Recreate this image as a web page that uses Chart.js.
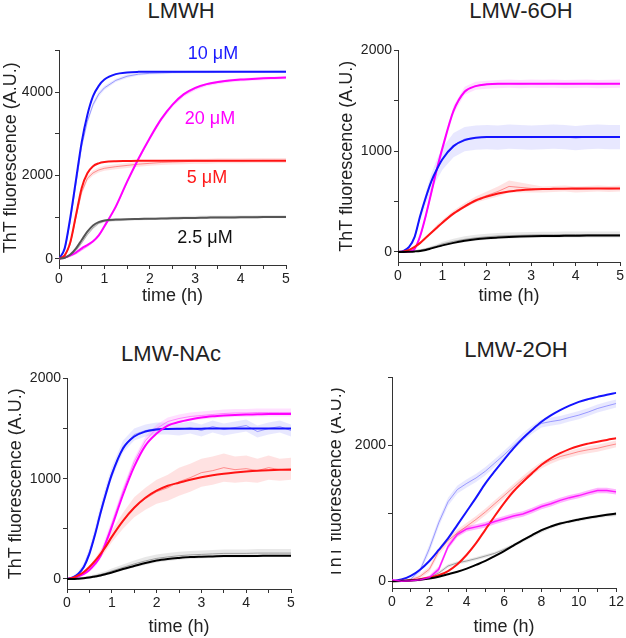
<!DOCTYPE html>
<html>
<head>
<meta charset="utf-8">
<script src="https://cdn.jsdelivr.net/npm/chart.js@4"></script>
<style>
  body { margin: 0; background: #fff; width: 626px; height: 638px; position: relative; overflow: hidden;
         font-family: "Liberation Sans", Arial, sans-serif; }
  .box { position: absolute; }
  .ttl { position: absolute; font-size: 22px; color: #222; transform: translate(-50%, -50%); white-space: nowrap; }
  .lbl { position: absolute; font-size: 18px; transform: translate(-50%, -50%); white-space: nowrap; }
</style>
</head>
<body>
<div class="ttl" style="left:181px;top:11px">LMWH</div>
<div class="ttl" style="left:521px;top:11px">LMW-6OH</div>
<div class="ttl" style="left:171px;top:354px">LMW-NAc</div>
<div class="ttl" style="left:516px;top:350px">LMW-2OH</div>

<div class="box" style="left:0px;top:40px;width:296px;height:267px"><canvas id="cLMWH"></canvas></div>
<div class="box" style="left:336px;top:40px;width:290px;height:267px"><canvas id="c6OH"></canvas></div>
<div class="box" style="left:5px;top:368px;width:296px;height:270px"><canvas id="cNAc"></canvas></div>
<div class="box" style="left:331px;top:367px;width:295px;height:271px"><canvas id="c2OH"></canvas></div>

<div class="lbl" style="left:213px;top:53px;color:#1a1aff">10 μM</div>
<div class="lbl" style="left:210px;top:118px;color:#ff00ff">20 μM</div>
<div class="lbl" style="left:207px;top:177px;color:#ff1a1a">5 μM</div>
<div class="lbl" style="left:205px;top:237px;color:#111">2.5 μM</div>

<script>
// 時間 (h)
const time5 = [0, 0.125, 0.25, 0.375, 0.5, 0.625, 0.75, 0.875, 1, 1.25, 1.5, 1.75, 2, 2.25, 2.5, 2.75, 3, 3.25, 3.5, 3.75, 4, 4.25, 4.5, 4.75, 5];
const time12 = [0, 0.5, 1, 1.5, 2, 2.5, 3, 3.5, 4, 4.5, 5, 5.5, 6, 6.5, 7, 7.5, 8, 8.5, 9, 9.5, 10, 10.5, 11, 11.5, 12];

// LMWH
const lmwhFit10 = [0, 250, 1000, 1900, 2800, 3450, 3900, 4150, 4300, 4430, 4470, 4485, 4490, 4490, 4490, 4490, 4490, 4490, 4490, 4490, 4490, 4490, 4490, 4490, 4490];
const lmwhObs10 = [0, 200, 900, 1800, 2700, 3300, 3700, 3950, 4100, 4280, 4380, 4430, 4450, 4460, 4470, 4475, 4480, 4480, 4485, 4490, 4490, 4490, 4490, 4495, 4495];
const lmwhErr10 = [0, 20, 40, 60, 60, 60, 60, 60, 50, 40, 40, 30, 30, 30, 30, 30, 30, 30, 30, 30, 30, 30, 30, 30, 30];
const lmwhFit20 = [0, 30, 80, 150, 250, 330, 420, 560, 780, 1250, 1850, 2400, 2900, 3350, 3700, 3950, 4100, 4190, 4240, 4275, 4300, 4315, 4330, 4340, 4350];
const lmwhObs20 = [0, 20, 60, 120, 210, 300, 400, 540, 760, 1230, 1830, 2380, 2880, 3330, 3680, 3930, 4080, 4180, 4230, 4270, 4295, 4310, 4325, 4335, 4345];
const lmwhErr20 = [0, 10, 20, 20, 20, 30, 30, 30, 40, 40, 40, 40, 40, 40, 40, 40, 40, 40, 40, 40, 40, 40, 40, 40, 40];
const lmwhFit5 = [0, 80, 400, 1050, 1700, 2050, 2220, 2290, 2320, 2340, 2345, 2350, 2350, 2350, 2350, 2350, 2350, 2350, 2350, 2350, 2350, 2350, 2350, 2350, 2350];
const lmwhObs5 = [0, 60, 350, 1000, 1600, 1930, 2060, 2130, 2170, 2210, 2240, 2270, 2290, 2310, 2320, 2330, 2340, 2340, 2350, 2350, 2350, 2355, 2360, 2360, 2360];
const lmwhErr5 = [0, 20, 40, 50, 60, 60, 60, 60, 60, 60, 60, 60, 60, 60, 60, 60, 60, 60, 60, 60, 60, 60, 60, 60, 60];
const lmwhFit2 = [0, 20, 100, 250, 450, 650, 800, 880, 920, 940, 950, 955, 960, 965, 970, 975, 980, 985, 990, 990, 995, 995, 1000, 1000, 1000];
const lmwhObs2 = [0, 15, 80, 200, 380, 580, 740, 850, 900, 925, 940, 950, 960, 965, 975, 985, 990, 995, 1000, 1000, 1005, 1005, 1010, 1010, 1010];
const lmwhErr2 = [0, 10, 20, 30, 30, 30, 30, 30, 30, 30, 30, 30, 30, 30, 40, 40, 40, 40, 40, 40, 40, 40, 40, 40, 40];

// LMW-6OH
const o6Fit20 = [0, 0, 5, 30, 160, 360, 590, 820, 1030, 1400, 1590, 1645, 1663, 1668, 1668, 1668, 1668, 1668, 1668, 1668, 1668, 1668, 1668, 1668, 1668];
const o6Obs20 = [0, 0, 5, 25, 150, 350, 580, 820, 1030, 1410, 1600, 1650, 1660, 1665, 1670, 1665, 1670, 1668, 1670, 1665, 1668, 1670, 1665, 1668, 1670];
const o6Err20 = [0, 5, 10, 15, 20, 30, 40, 40, 40, 40, 40, 40, 40, 40, 40, 40, 40, 40, 40, 40, 40, 40, 40, 40, 40];
const o6Fit10 = [0, 10, 50, 150, 360, 540, 700, 820, 920, 1050, 1110, 1132, 1140, 1140, 1140, 1140, 1140, 1140, 1140, 1140, 1140, 1140, 1140, 1140, 1140];
const o6Obs10 = [0, 10, 45, 150, 350, 530, 695, 820, 925, 1060, 1120, 1135, 1140, 1135, 1145, 1140, 1135, 1140, 1145, 1140, 1130, 1140, 1145, 1140, 1140];
const o6Err10 = [0, 5, 10, 20, 40, 60, 80, 100, 110, 120, 120, 120, 120, 120, 120, 120, 120, 120, 120, 120, 120, 120, 120, 120, 120];
const o6Fit5 = [0, 5, 20, 50, 90, 140, 190, 240, 290, 380, 450, 510, 550, 580, 600, 612, 620, 624, 626, 628, 629, 630, 630, 630, 630];
const o6Obs5 = [0, 5, 15, 45, 85, 140, 195, 250, 300, 390, 460, 520, 560, 600, 650, 640, 630, 620, 625, 630, 620, 625, 630, 625, 630];
const o6Err5 = [0, 5, 5, 10, 10, 15, 15, 20, 20, 20, 25, 30, 40, 50, 60, 50, 40, 30, 30, 30, 30, 30, 30, 30, 30];
const o6Fit2 = [0, 0, 2, 5, 10, 20, 35, 50, 65, 90, 110, 125, 135, 142, 148, 152, 155, 157, 158, 160, 161, 162, 162, 163, 163];
const o6Obs2 = [0, 0, 5, 10, 20, 30, 45, 60, 80, 105, 125, 140, 150, 158, 162, 165, 168, 170, 170, 172, 172, 172, 172, 172, 172];
const o6Err2 = [0, 5, 5, 10, 10, 10, 15, 15, 20, 25, 30, 30, 30, 30, 30, 30, 30, 30, 30, 30, 30, 30, 30, 30, 30];

// LMW-NAc
const nacFit10 = [0, 15, 50, 120, 250, 440, 660, 860, 1040, 1300, 1420, 1470, 1490, 1495, 1497, 1498, 1499, 1500, 1500, 1500, 1500, 1500, 1500, 1500, 1500];
const nacObs10 = [0, 15, 55, 130, 270, 460, 680, 880, 1060, 1320, 1440, 1480, 1500, 1500, 1490, 1510, 1480, 1520, 1490, 1510, 1530, 1470, 1500, 1520, 1480];
const nacErr10 = [0, 10, 20, 30, 40, 50, 60, 60, 60, 60, 60, 60, 60, 60, 60, 60, 60, 60, 60, 60, 60, 60, 60, 60, 60];
const nacFit20 = [0, 10, 25, 50, 90, 150, 230, 370, 520, 840, 1120, 1330, 1450, 1530, 1565, 1590, 1610, 1622, 1630, 1636, 1640, 1642, 1645, 1645, 1645];
const nacObs20 = [0, 10, 25, 50, 90, 150, 240, 390, 550, 880, 1170, 1380, 1500, 1570, 1600, 1620, 1630, 1640, 1650, 1655, 1655, 1660, 1660, 1660, 1660];
const nacErr20 = [0, 10, 10, 20, 20, 30, 40, 40, 40, 40, 40, 40, 40, 40, 40, 40, 40, 40, 40, 40, 40, 40, 40, 40, 40];
const nacFit5 = [0, 10, 35, 70, 120, 180, 250, 330, 420, 580, 710, 810, 880, 930, 960, 990, 1015, 1035, 1050, 1062, 1072, 1080, 1085, 1088, 1090];
const nacObs5 = [0, 10, 30, 65, 115, 175, 250, 335, 425, 580, 715, 800, 870, 910, 970, 1010, 1060, 1080, 1110, 1090, 1100, 1080, 1110, 1090, 1100];
const nacErr5 = [0, 5, 10, 15, 20, 30, 40, 50, 60, 80, 100, 110, 120, 130, 140, 140, 140, 140, 140, 130, 130, 120, 120, 110, 110];
const nacFit2 = [0, 0, 3, 8, 15, 25, 35, 50, 65, 100, 130, 160, 185, 200, 210, 218, 222, 225, 228, 229, 230, 230, 231, 231, 231];
const nacObs2 = [0, 0, 5, 12, 20, 32, 45, 60, 80, 115, 150, 180, 205, 220, 232, 240, 245, 250, 255, 255, 255, 258, 258, 258, 258];
const nacErr2 = [0, 5, 10, 10, 15, 15, 20, 20, 25, 30, 35, 40, 40, 40, 40, 40, 40, 40, 40, 40, 40, 40, 40, 40, 40];

// LMW-2OH
const o2Fit10 = [0, 25, 78, 170, 298, 460, 630, 830, 1030, 1230, 1440, 1620, 1790, 1955, 2103, 2230, 2347, 2440, 2518, 2585, 2640, 2680, 2713, 2745, 2772];
const o2Obs10 = [0, 0, 29, 160, 480, 860, 1170, 1350, 1440, 1520, 1620, 1740, 1860, 1990, 2120, 2230, 2323, 2350, 2372, 2410, 2445, 2490, 2542, 2580, 2616];
const o2Err10 = [0, 10, 20, 40, 60, 60, 60, 60, 60, 60, 60, 60, 60, 60, 60, 60, 60, 60, 60, 60, 60, 60, 60, 60, 60];
const o2Fit5 = [0, 5, 15, 30, 54, 88, 150, 250, 390, 560, 760, 960, 1150, 1320, 1460, 1590, 1713, 1810, 1884, 1945, 1991, 2025, 2054, 2080, 2103];
const o2Obs5 = [0, 5, 20, 70, 176, 440, 600, 710, 810, 910, 1020, 1140, 1260, 1380, 1500, 1610, 1710, 1780, 1835, 1870, 1908, 1935, 1957, 1990, 2020];
const o2Err5 = [0, 10, 20, 30, 40, 50, 50, 50, 50, 50, 50, 50, 50, 50, 50, 50, 50, 50, 50, 50, 50, 50, 50, 50, 50];
const o2Obs20 = [20, 0, 5, 20, 54, 176, 510, 690, 770, 800, 830, 880, 920, 960, 990, 1040, 1100, 1140, 1190, 1230, 1260, 1300, 1335, 1335, 1315];
const o2Err20 = [10, 10, 10, 20, 30, 40, 40, 40, 40, 40, 40, 40, 40, 40, 40, 40, 40, 40, 40, 40, 40, 40, 40, 40, 40];
const o2Fit2 = [0, 3, 10, 22, 39, 65, 102, 140, 185, 240, 298, 370, 444, 525, 605, 680, 752, 805, 849, 880, 908, 935, 956, 977, 996];
const o2Obs2 = [0, 3, 10, 25, 54, 120, 224, 270, 298, 332, 371, 410, 468, 530, 600, 670, 740, 800, 845, 880, 905, 930, 950, 970, 980];
const o2Err2 = [0, 5, 10, 15, 20, 25, 25, 25, 25, 25, 25, 25, 25, 25, 25, 25, 25, 25, 25, 25, 25, 25, 25, 25, 25];

// 目盛り
const xTicks5 = [0, 0.5, 1, 1.5, 2, 2.5, 3, 3.5, 4, 4.5, 5];
const xLabels5 = [0, 1, 2, 3, 4, 5];
const xTicks12 = [0, 1, 2, 3, 4, 5, 6, 7, 8, 9, 10, 11, 12];
const xLabels12 = [0, 2, 4, 6, 8, 10, 12];
const yTicksLMWH = [0, 1000, 2000, 3000, 4000, 5000];
const yLabelsLMWH = [0, 2000, 4000];
const yTicks2000 = [0, 500, 1000, 1500, 2000];
const yLabels2000 = [0, 1000, 2000];
const yTicks2OH = [0, 1000, 2000, 3000];
const yLabels2OH = [0, 2000];

const FONT = "'Liberation Sans', Arial, sans-serif";

const palette = {
  blue: { fit: "#1414ff", obs: "rgba(100,100,255,0.6)", band: "rgba(110,110,255,0.16)" },
  magenta: { fit: "#ff00ff", obs: "rgba(255,70,255,0.6)", band: "rgba(255,60,255,0.16)" },
  red: { fit: "#ff1414", obs: "rgba(255,80,80,0.6)", band: "rgba(255,60,60,0.15)" },
  black: { fit: "#000000", obs: "rgba(110,110,110,0.6)", band: "rgba(130,130,130,0.18)" },
  gray: { fit: "#555555", obs: "rgba(130,130,130,0.6)", band: "rgba(140,140,140,0.18)" },
};

function pts(time, arr, off, sign) {
  return time.map((x, i) => ({ x: x, y: arr[i] + (off ? sign * off[i] : 0) }));
}

// 系列ごとのデータセットを作る
function buildDatasets(time, groups) {
  const ds = [];
  groups.forEach((g) => {
    const col = palette[g.color];
    if (g.err) {
      ds.push({ data: pts(time, g.obs, g.err, -1), borderWidth: 0, pointRadius: 0, fill: false, order: 3 });
      ds.push({ data: pts(time, g.obs, g.err, 1), borderWidth: 0, pointRadius: 0, fill: "-1",
        backgroundColor: g.band || col.band, order: 3 });
    }
    if (g.obs) {
      ds.push({ data: pts(time, g.obs), borderColor: g.obsColor || col.obs, borderWidth: g.obsWidth || 1,
        pointRadius: 0, tension: 0, fill: false, order: g.obsOrder !== undefined ? g.obsOrder : 2 });
    }
    if (g.fit) {
      ds.push({ data: pts(time, g.fit), borderColor: col.fit, borderWidth: 2, pointRadius: 0,
        cubicInterpolationMode: "monotone", fill: false, order: 1 });
    }
  });
  return ds;
}

function makeChart(id, time, groups, ax) {
  const canvas = document.getElementById(id);
  return new Chart(canvas, {
    type: "line",
    data: { datasets: buildDatasets(time, groups) },
    options: {
      animation: false,
      responsive: true,
      maintainAspectRatio: false,
      layout: { padding: ax.pad },
      plugins: { legend: { display: false }, tooltip: { enabled: false } },
      scales: {
        x: {
          type: "linear",
          min: ax.xMin,
          max: ax.xMax,
          afterBuildTicks: (s) => { s.ticks = ax.xTicks.map((v) => ({ value: v })); },
          afterFit: (s) => { s.height = ax.xH; },
          ticks: {
            autoSkip: false, maxRotation: 0, padding: 2, color: "#222",
            font: { size: 14, family: FONT },
            callback: (v) => (ax.xLabels.includes(v) ? String(v) : ""),
          },
          grid: { drawOnChartArea: false, tickLength: 4, color: "#333" },
          border: { color: "#333", width: 1 },
          title: { display: true, text: "time (h)", color: "#222", padding: 0, font: { size: 18, family: FONT } },
        },
        y: {
          min: ax.yMin,
          max: ax.yMax,
          afterBuildTicks: (s) => { s.ticks = ax.yTicks.map((v) => ({ value: v })); },
          afterFit: (s) => { s.width = ax.yW; },
          ticks: {
            autoSkip: false, padding: 2, color: "#222",
            font: { size: 14, family: FONT },
            callback: (v) => (ax.yLabels.includes(v) ? String(v) : ""),
          },
          grid: { drawOnChartArea: false, tickLength: 4, color: "#333" },
          border: { color: "#333", width: 1 },
          title: { display: true, text: "ThT fluorescence (A.U.)", color: "#222", padding: { top: ax.yTitlePad || 0 },
                   font: { size: 18, family: FONT } },
        },
      },
    },
  });
}

makeChart("cLMWH", time5, [
  { color: "gray", fit: lmwhFit2, obs: lmwhObs2, err: lmwhErr2 },
  { color: "red", fit: lmwhFit5, obs: lmwhObs5, err: lmwhErr5 },
  { color: "magenta", fit: lmwhFit20, obs: lmwhObs20, err: lmwhErr20 },
  { color: "blue", fit: lmwhFit10, obs: lmwhObs10, err: lmwhErr10 },
], { xMin: 0, xMax: 5, yMin: -150, yMax: 5000, xTicks: xTicks5, xLabels: xLabels5,
     yTicks: yTicksLMWH, yLabels: yLabelsLMWH, yW: 59, xH: 42, pad: { top: 10, right: 10, left: 0, bottom: 0 } });

makeChart("c6OH", time5, [
  { color: "black", fit: o6Fit2, obs: o6Obs2, err: o6Err2 },
  { color: "red", fit: o6Fit5, obs: o6Obs5, err: o6Err5 },
  { color: "blue", fit: o6Fit10, obs: o6Obs10, err: o6Err10 },
  { color: "magenta", fit: o6Fit20, obs: o6Obs20, err: o6Err20 },
], { xMin: 0, xMax: 5, yMin: -100, yMax: 2000, xTicks: xTicks5, xLabels: xLabels5,
     yTicks: yTicks2000, yLabels: yLabels2000, yW: 62, xH: 45, pad: { top: 10, right: 5, left: 0, bottom: 0 } });

makeChart("cNAc", time5, [
  { color: "black", fit: nacFit2, obs: nacObs2, err: nacErr2 },
  { color: "red", fit: nacFit5, obs: nacObs5, err: nacErr5 },
  { color: "magenta", fit: nacFit20, obs: nacObs20, err: nacErr20 },
  { color: "blue", fit: nacFit10, obs: nacObs10, err: nacErr10 },
], { xMin: 0, xMax: 5, yMin: -100, yMax: 2000, xTicks: xTicks5, xLabels: xLabels5,
     yTicks: yTicks2000, yLabels: yLabels2000, yW: 62, xH: 49, pad: { top: 10, right: 10, left: 0, bottom: 0 } });

makeChart("c2OH", time12, [
  { color: "black", fit: o2Fit2, obs: o2Obs2, err: o2Err2 },
  { color: "red", fit: o2Fit5, obs: o2Obs5, err: o2Err5 },
  { color: "magenta", obs: o2Obs20, err: o2Err20, obsColor: "rgba(255,0,255,0.85)", obsWidth: 1.5,
    band: "rgba(255,40,255,0.35)", obsOrder: -1 },
  { color: "blue", fit: o2Fit10, obs: o2Obs10, err: o2Err10 },
], { xMin: 0, xMax: 12, yMin: -100, yMax: 3000, xTicks: xTicks12, xLabels: xLabels12,
     yTicks: yTicks2OH, yLabels: yLabels2OH, yW: 61, xH: 50, yTitlePad: -6,
     pad: { top: 10, right: 9, left: 0, bottom: 0 } });
</script>
</body>
</html>
